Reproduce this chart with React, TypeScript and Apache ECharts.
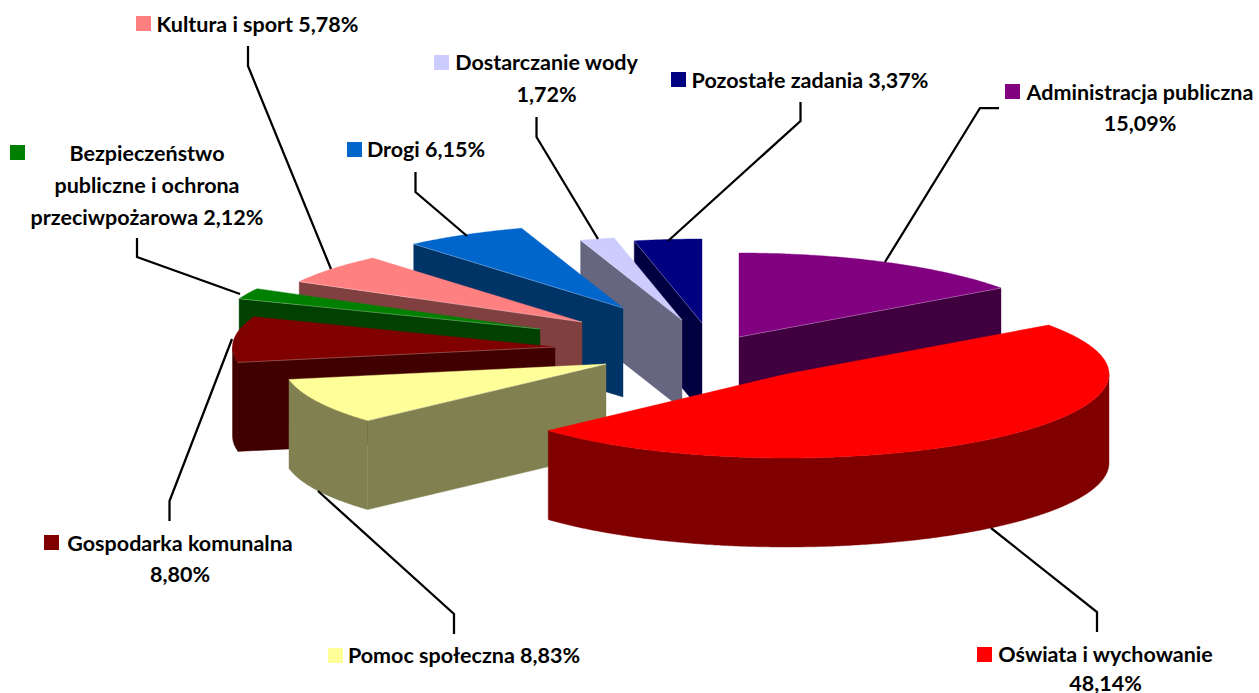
import React, { useEffect, useRef } from "react";
import * as echarts from "echarts";

// ---- data, clockwise from 12 o'clock ----
const categories = [
  "Administracja publiczna",
  "Oświata i wychowanie",
  "Pomoc społeczna",
  "Gospodarka komunalna",
  "Bezpieczeństwo\npubliczne i ochrona\nprzeciwpożarowa",
  "Kultura i sport",
  "Drogi",
  "Dostarczanie wody",
  "Pozostałe zadania",
];
const shares = [15.09, 48.14, 8.83, 8.8, 2.12, 5.78, 6.15, 1.72, 3.37];
const valueOnNewLine = [true, true, false, true, false, false, false, true, false];

// ---- styles ----
const topColors = ["#800080", "#FF0000", "#FFFF99", "#800000", "#008000", "#FF8080", "#0066CC", "#CCCCFF", "#000080"];
const sideColors = ["#400040", "#800000", "#808050", "#400000", "#004000", "#804040", "#003366", "#666680", "#000040"];

// ---- 3D pie layout ----
const RX = 322.5;
const RY = 84;
const DEPTH = 89;
const apexX = [739, 786.5, 606, 555, 540, 582, 623, 682, 702];
const apexY = [337, 374, 364, 347, 329, 322, 308, 320, 323];
const paintOrder = [0, 8, 7, 6, 5, 4, 3, 2, 1];

// ---- label layout ----
const FONT = "Lato";
const FONT_SIZE = 21.5;
const labelLineGap = [31, 28.5, 32, 31, 32, 32, 32, 32, 32];
const labelCenterX = [1140, 1105.5, 464, 180, 147, 257.5, 426, 546.5, 810];
const labelFirstY = [92, 654, 655, 543, 153, 24, 149, 62, 80];
const swatchX = [1005, 977, 328, 44, 10, 136, 347, 434, 671];
const swatchY = [84, 647, 648, 535, 145, 16, 142, 55, 72];
const leaderXs = [
  [999, 980, 885],
  [1097, 1097, 991],
  [454, 454, 318],
  [169.5, 169.5, 232],
  [137, 137, 240],
  [248, 248, 331],
  [415.5, 415.5, 467],
  [536.5, 536.5, 598],
  [800.5, 800.5, 668],
];
const leaderYs = [
  [108, 108, 262],
  [632, 612, 528],
  [634, 614, 491],
  [521, 501, 339],
  [238, 257, 294],
  [46, 66, 269],
  [172, 192, 236],
  [117, 137, 239],
  [102, 121, 241],
];

const total = shares.reduce((a, b) => a + b, 0);
const cumulative: number[] = [];
shares.reduce((acc, v, i) => {
  cumulative[i] = acc;
  return acc + v;
}, 0);

const rad = (d: number) => (d * Math.PI) / 180;

function rim(i: number, deg: number, drop = 0): number[] {
  return [apexX[i] + RX * Math.sin(rad(deg)), apexY[i] - RY * Math.cos(rad(deg)) + drop];
}

function arcPts(i: number, a: number, b: number, drop = 0): number[][] {
  const n = Math.max(2, Math.ceil(Math.abs(b - a) * 2));
  const out: number[][] = [];
  for (let k = 0; k <= n; k++) out.push(rim(i, a + ((b - a) * k) / n, drop));
  return out;
}

function sliceRender(i: number) {
  return (_params: any, api: any) => {
    const val = api.value(0);
    const a = (cumulative[i] / total) * 360;
    const b = a + (val / total) * 360;
    const apex = [apexX[i], apexY[i]];
    const apexLow = [apexX[i], apexY[i] + DEPTH];
    const side = sideColors[i];
    const children: any[] = [];
    const face = (points: number[][], fill: string) =>
      children.push({
        type: "polygon",
        shape: { points },
        style: { fill, stroke: fill, lineWidth: 0.4 },
      });
    const seam = (points: number[][]) =>
      children.push({
        type: "polyline",
        shape: { points },
        style: { fill: "none", stroke: "#ffffff", opacity: 0.35, lineWidth: 0.8 },
      });
    // radial side faces that look towards the viewer
    const showStart = a > 180;
    const showEnd = b < 180;
    if (showStart) face([apex, rim(i, a), rim(i, a, DEPTH), apexLow], side);
    if (showEnd) face([apex, rim(i, b), rim(i, b, DEPTH), apexLow], side);
    // outer wall, front half of the ellipse only
    const wa = Math.max(a, 90);
    const wb = Math.min(b, 270);
    if (wb > wa) {
      const up = arcPts(i, wa, wb);
      const low = arcPts(i, wa, wb, DEPTH).reverse();
      face([...up, ...low], side);
    }
    // top
    face([apex, ...arcPts(i, a, b)], topColors[i]);
    if (showStart) seam([apex, rim(i, a)]);
    if (showEnd) seam([apex, rim(i, b)]);
    return { type: "group", children };
  };
}

function labelLines(i: number): string[] {
  const v = shares[i].toFixed(2).replace(".", ",") + "%";
  return (categories[i] + (valueOnNewLine[i] ? "\n" : " ") + v).split("\n");
}

export default function App() {
  const ref = useRef<HTMLDivElement>(null);
  useEffect(() => {
    document.body.style.margin = "0";
    const chart = echarts.init(ref.current!, null, { renderer: "svg" });
    const graphics: any[] = [];
    categories.forEach((_, i) => {
      graphics.push({
        type: "polyline",
        z: 20,
        shape: { points: leaderXs[i].map((x, k) => [x, leaderYs[i][k]]) },
        style: { fill: "none", stroke: "#000000", lineWidth: 2.25 },
      });
      graphics.push({
        type: "rect",
        z: 30,
        shape: { x: swatchX[i], y: swatchY[i], width: 15, height: 15 },
        style: { fill: topColors[i] },
      });
      labelLines(i).forEach((line, k) => {
        graphics.push({
          type: "text",
          z: 30,
          x: labelCenterX[i],
          y: labelFirstY[i] + k * labelLineGap[i],
          style: {
            text: line,
            fontFamily: FONT,
            fontWeight: "bold",
            fontSize: FONT_SIZE,
            fill: "#000000",
            align: "center",
            verticalAlign: "middle",
          },
        });
      });
    });
    chart.setOption({
      animation: false,
      backgroundColor: "#ffffff",
      series: categories.map((name, i) => ({
        type: "custom",
        name: name.replace(/\n/g, " "),
        coordinateSystem: "none",
        silent: true,
        z: 2 + paintOrder.indexOf(i),
        data: [[shares[i]]],
        renderItem: sliceRender(i),
      })),
      graphic: graphics,
    });
    return () => chart.dispose();
  }, []);
  return <div ref={ref} style={{ width: 1259, height: 693 }} />;
}
